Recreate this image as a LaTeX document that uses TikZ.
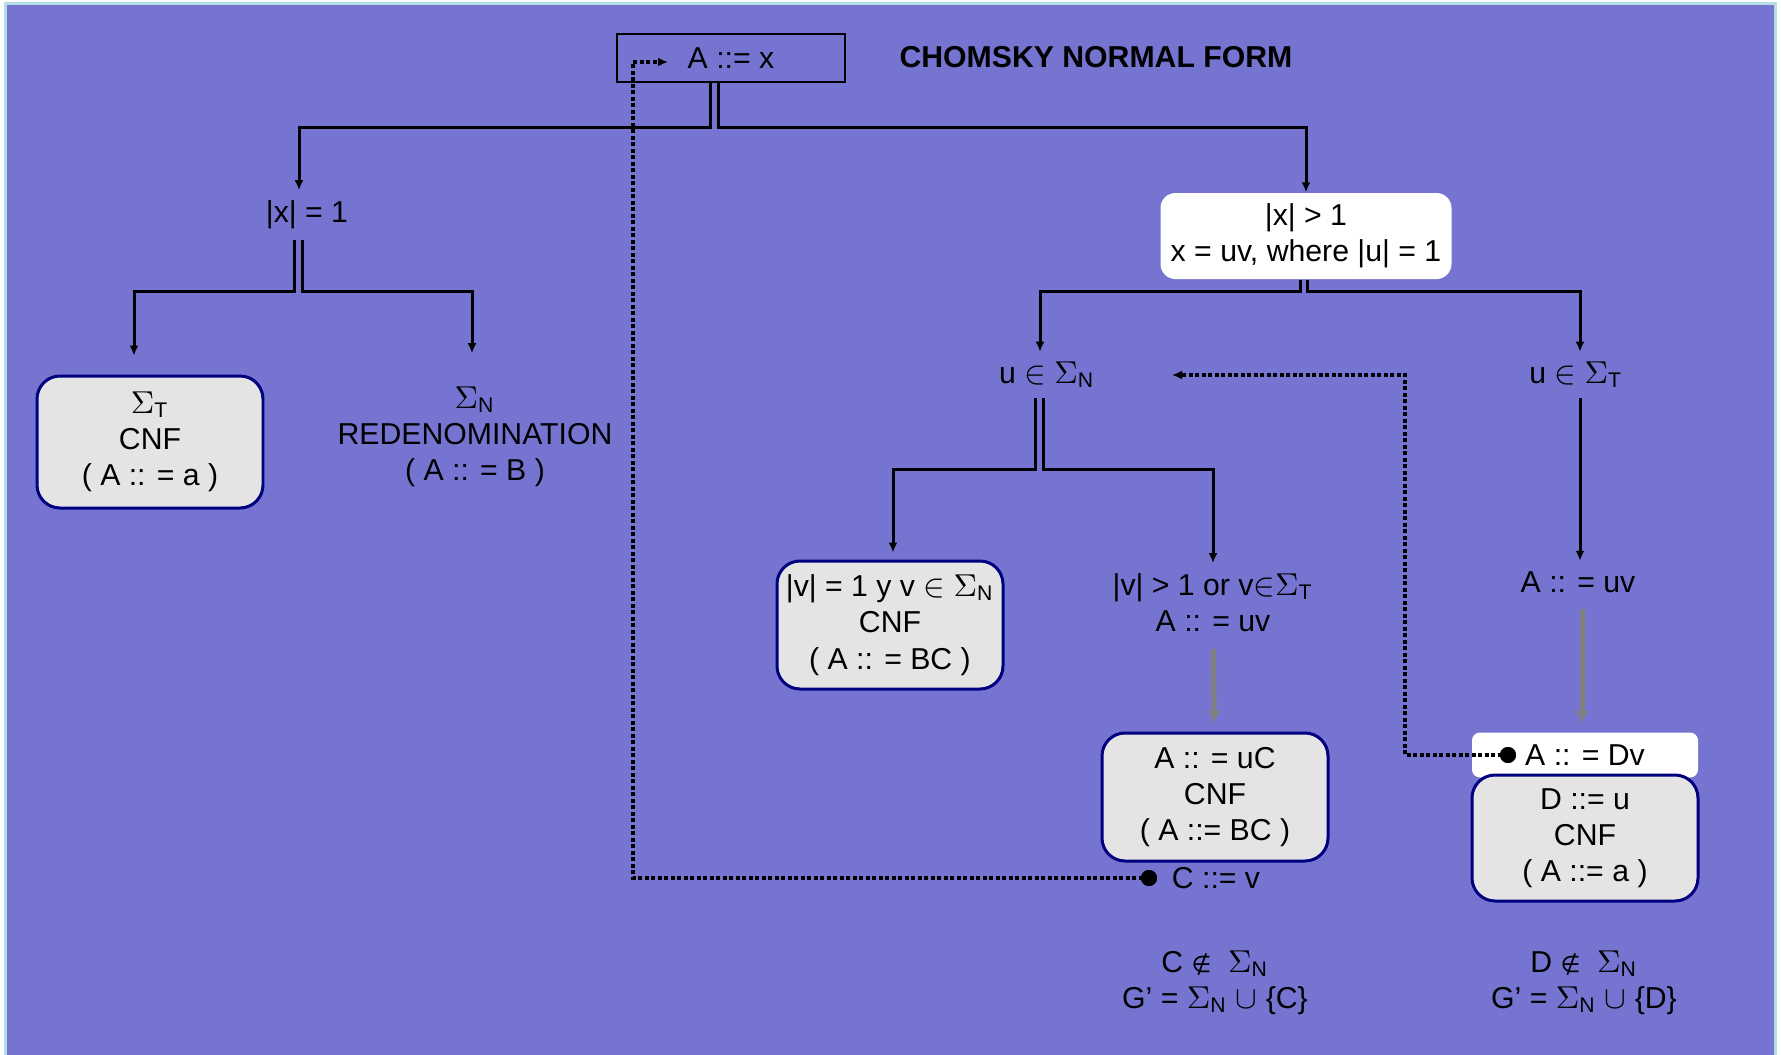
\documentclass[tikz,border=0pt]{standalone}
\usepackage{fontspec}
\setmainfont{Liberation Sans}
\newfontfamily\symf{DejaVu Sans}
\usepackage{xcolor}
\usepackage{tikz}
\usetikzlibrary{arrows.meta}

\definecolor{bgpurple}{RGB}{117,117,209}
\definecolor{framecyan}{RGB}{178,222,228}
\definecolor{boxgray}{RGB}{228,228,228}
\definecolor{navyline}{RGB}{0,0,128}
\newcommand{\SgN}{$\Sigma$\textsubscript{N}}
\newcommand{\SgT}{$\Sigma$\textsubscript{T}}
\newcommand{\nmem}{{\symf\fontsize{6.5}{8}\selectfont ∉}}

\begin{document}
\begin{tikzpicture}[
    x=0.1mm, y=-0.1mm,
    font=\fontsize{8.6}{10.3}\selectfont,
    >={Latex[length=1mm,width=0.9mm]},
    lab/.style={inner sep=1mm, align=center},
    conn/.style={line width=0.3mm, ->},
    grayarr/.style={line width=0.5mm, draw=black!50, -{Latex[length=1.2mm,width=1.4mm]},
      shorten <=0.6mm, shorten >=0.9mm},
    dotline/.style={line width=0.4mm, dash pattern=on 0.4mm off 0.25mm},
    cnfbox/.style={draw=navyline, fill=boxgray, line width=0.3mm, rounded corners=2.3mm,
      align=center, inner sep=0pt, minimum width=22.6mm, minimum height=12.8mm},
    whitebox/.style={fill=white, align=center, inner sep=0pt},
    dot/.style={circle, fill=black, inner sep=0pt, minimum size=1.6mm},
  ]
  %% ---- background and frame ----------------------------------------------
  \useasboundingbox (0,0) rectangle (1781,1055);
  \fill[white] (0,0) rectangle (1781,1055);
  \fill[framecyan] (4,2) rectangle (1777,1055);
  \fill[bgpurple] (7,5) rectangle (1774,1055);

  %% ---- head of the tree --------------------------------------------------
  \node[draw, line width=0.12mm, minimum width=22.8mm, minimum height=4.8mm,
    inner sep=0pt] (top) at (731,58) {A ::= x};
  \node[lab, font=\fontsize{8.6}{10.3}\selectfont\bfseries] (title) at (1096,57)
    {CHOMSKY NORMAL FORM};
  \coordinate (topin) at (668,62);

  %% ---- |x| = 1 -------------------------------------------------------------
  \node[lab] (xeq1) at (307,215) {|x| = 1};
  \node[cnfbox, minimum height=13.2mm] (sT) at (150,442) {\SgT\\ CNF\\ ( A :: = a )};
  \node[lab] (sN) at (475,437) {\SgN\\ REDENOMINATION\\ ( A :: = B )};

  %% ---- |x| > 1 -------------------------------------------------------------
  \node[whitebox, rounded corners=1.5mm, minimum width=29.1mm, minimum height=8.6mm]
    (xgt1) at (1306,236) {|x| > 1\\ x = uv, where |u| = 1};
  \node[lab] (uN) at (1047,375) {u $\in$ \SgN};
  \node[lab] (uT) at (1576,375) {u $\in$ \SgT};
  \coordinate (uNin) at (1172,375);

  %% ---- u is a nonterminal ---------------------------------------------------
  \node[cnfbox] (v1) at (890,625) {|v| = 1 y v $\in$ \SgN\\ CNF\\ ( A :: = BC )};
  \node[lab] (vgt) at (1213,603) {|v| > 1 or v$\in$\SgT\\ A :: = uv};
  \node[cnfbox] (uC) at (1215,797) {A :: = uC\\ CNF\\ ( A ::= BC )};
  \node[lab] (cnew) at (1216,878) {C ::= v};
  \node[dot] (cdot) at (1149,878) {};
  \node[lab] (cnot) at (1215,983) {C \nmem\ \ \SgN\\ G’ =\ \SgN\ $\cup$ \{C\}};

  %% ---- u is a terminal -------------------------------------------------------
  \node[lab] (uvT) at (1578,582) {A :: = uv};
  \node[whitebox, rounded corners=0.8mm, minimum width=22.6mm, minimum height=4.5mm]
    (dv) at (1585,755) {A :: = Dv};
  \node[cnfbox, minimum height=12.6mm] (du) at (1585,838) {D ::= u\\ CNF\\ ( A ::= a )};
  \node[dot] (ddot) at (1508,755) {};
  \node[lab] (dnot) at (1584,983) {D \nmem\ \ \SgN\\ G’ =\ \SgN\ $\cup$ \{D\}};

  %% ---- tree connectors ---------------------------------------------------------
  \draw[conn] ([xshift=-2.1mm]top.south) -- ++(0,45) -| ([xshift=-0.8mm]xeq1.north);
  \draw[conn] ([xshift=-1.3mm]top.south) -- ++(0,45) -| (xgt1.north);

  \draw[conn, shorten >=1.9mm] ([xshift=-1.3mm]xeq1.south) -- ++(0,52) -| ([xshift=-1.6mm]sT.north);
  \draw[conn, shorten >=2.3mm] ([xshift=-0.5mm]xeq1.south) -- ++(0,52) -| ([xshift=-0.3mm]sN.north);

  \draw[conn] ([xshift=-0.6mm]xgt1.south) -- ++(0,12) -| ([xshift=-0.7mm]uN.north);
  \draw[conn] ([xshift=0.1mm]xgt1.south) -- ++(0,12) -| ([xshift=0.4mm]uT.north);

  \draw[conn, shorten >=0.7mm] ([xshift=-1.2mm]uN.south) -- ++(0,71) -| ([xshift=0.3mm]v1.north);
  \draw[conn] ([xshift=-0.4mm]uN.south) -- ++(0,71) -| (vgt.north);

  \draw[conn] ([xshift=0.4mm]uT.south) -- ([xshift=0.4mm]uT.south |- uvT.north);

  \draw[grayarr] (vgt) -- (uC);
  \draw[grayarr] ([xshift=0.4mm]uvT.south) -- ([xshift=0.4mm]uvT.south |- dv.north);

  %% ---- new variables fed back -----------------------------------------------
  \draw[dotline, ->] (cdot.center) -| ([xshift=-3.5mm]topin) -- (topin);
  \draw[dotline, ->] (ddot.center) -| ([xshift=23.3mm]uNin) -- (uNin);
  \node[dot] at (cdot) {};
  \node[dot] at (ddot) {};
\end{tikzpicture}
\end{document}
